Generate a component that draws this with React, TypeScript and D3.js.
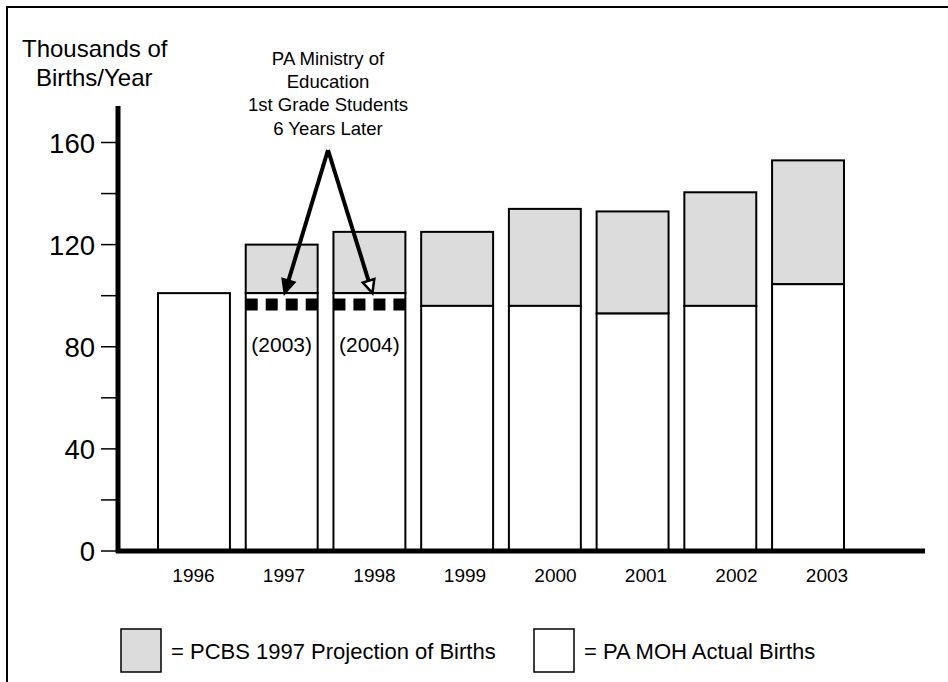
import React from "react";
import * as d3 from "d3";

const years = ["1996", "1997", "1998", "1999", "2000", "2001", "2002", "2003"];
const actualBirths = [101, 101, 101, 96, 96, 93, 96, 104.5];
const projectedBirths: (number | null)[] = [null, 120, 125, 125, 134, 133, 140.5, 153];
const moeYears = ["1997", "1998"];
const moeStudents = [96.5, 96.5];
const moeLabels = ["(2003)", "(2004)"];
const majorTicks = [0, 40, 80, 120, 160];
const minorTicks = [20, 60, 100, 140];
const yTitle = ["Thousands of", "Births/Year"];
const annotationLines = ["PA Ministry of", "Education", "1st Grade Students", "6 Years Later"];
const legendItems = [
  { label: "= PCBS 1997 Projection of Births", fill: "#dcdcdc" },
  { label: "= PA MOH Actual Births", fill: "#ffffff" },
];

const W = 948;
const H = 682;
const FONT = "'Liberation Sans', Arial, Helvetica, sans-serif";
const GRAY = "#dcdcdc";

export default function App() {
  const y = d3.scaleLinear().domain([0, 160]).range([551, 142.5]);
  const x = d3.scaleBand<string>().domain(years).range([158, 844]).paddingInner(0.18).paddingOuter(0);
  const xl = d3.scalePoint<string>().domain(years).range([193.5, 827]);
  const bw = x.bandwidth();

  const apex = { x: 328, y: 150 };
  const targets = moeYears.map((yr) => {
    const i = years.indexOf(yr);
    return { x: (x(yr) as number) + bw / 2 + 3, y: y(actualBirths[i]) };
  });

  const arrowHead = (tx: number, ty: number, filled: boolean, key: string) => {
    const ang = Math.atan2(ty - apex.y, tx - apex.x);
    const len = 13;
    const half = 6;
    const bx = tx - len * Math.cos(ang);
    const by = ty - len * Math.sin(ang);
    const px = -Math.sin(ang);
    const py = Math.cos(ang);
    const pts = [
      [tx, ty],
      [bx + half * px, by + half * py],
      [bx - half * px, by - half * py],
    ];
    return (
      <g key={key}>
        <line x1={apex.x} y1={apex.y} x2={bx} y2={by} stroke="#000" strokeWidth={4} />
        <polygon
          points={pts.map((p) => p.join(",")).join(" ")}
          fill={filled ? "#000" : "#fff"}
          stroke="#000"
          strokeWidth={2.5}
          strokeLinejoin="miter"
        />
      </g>
    );
  };

  return (
    <svg
      width={W}
      height={H}
      style={{ position: "absolute", left: 0, top: 0, background: "#fff" }}
      fontFamily={FONT}
    >
      <rect x={0} y={0} width={W} height={H} fill="#fff" />
      {/* outer frame */}
      <path d={`M7,${H + 5} V7 H${W + 5}`} fill="none" stroke="#000" strokeWidth={2} />

      {/* y title */}
      {yTitle.map((t, i) => (
        <text key={t} x={i === 0 ? 22 : 36} y={57 + i * 29} fontSize={24} fill="#000">
          {t}
        </text>
      ))}

      {/* bars */}
      {years.map((yr, i) => {
        const x0 = x(yr) as number;
        const proj = projectedBirths[i];
        return (
          <g key={yr}>
            {proj !== null && (
              <rect
                x={x0}
                y={y(proj)}
                width={bw}
                height={y(actualBirths[i]) - y(proj)}
                fill={GRAY}
                stroke="#000"
                strokeWidth={2}
              />
            )}
            <rect
              x={x0}
              y={y(actualBirths[i])}
              width={bw}
              height={y(0) - y(actualBirths[i])}
              fill="#fff"
              stroke="#000"
              strokeWidth={2}
            />
          </g>
        );
      })}

      {/* MOE dashed lines */}
      {moeYears.map((yr, i) => {
        const x0 = x(yr) as number;
        return (
          <g key={yr}>
            <line
              x1={x0}
              x2={x0 + bw}
              y1={y(moeStudents[i])}
              y2={y(moeStudents[i])}
              stroke="#000"
              strokeWidth={12}
              strokeDasharray="12 8"
            />
            <text
              x={x0 + bw / 2}
              y={y(moeStudents[i]) + 47}
              fontSize={21}
              textAnchor="middle"
              fill="#000"
            >
              {moeLabels[i]}
            </text>
          </g>
        );
      })}

      {/* axes */}
      <line x1={118} x2={118} y1={106} y2={553} stroke="#000" strokeWidth={5} />
      <line x1={116} x2={925} y1={y(0)} y2={y(0)} stroke="#000" strokeWidth={5} />
      {[...majorTicks, ...minorTicks].map((t) => (
        <line key={t} x1={101} x2={118} y1={y(t)} y2={y(t)} stroke="#000" strokeWidth={1.5} />
      ))}
      {majorTicks.map((t) => (
        <text key={t} x={95} y={y(t) + 10} fontSize={27.5} textAnchor="end" fill="#000">
          {t}
        </text>
      ))}
      {years.map((yr) => (
        <text key={yr} x={xl(yr)} y={582} fontSize={19} textAnchor="middle" fill="#000">
          {yr}
        </text>
      ))}

      {/* annotation */}
      {annotationLines.map((t, i) => (
        <text key={t} x={328} y={65 + i * 23.2} fontSize={18.6} textAnchor="middle" fill="#000">
          {t}
        </text>
      ))}
      {targets.map((t, i) => arrowHead(t.x, t.y, i === 0, `a${i}`))}

      {/* legend */}
      {legendItems.map((it, i) => {
        const bx = i === 0 ? 121 : 534;
        return (
          <g key={it.label}>
            <rect x={bx} y={629} width={40} height={43} fill={it.fill} stroke="#000" strokeWidth={1.5} />
            <text x={bx + 50} y={659} fontSize={22} fill="#000">
              {it.label}
            </text>
          </g>
        );
      })}
    </svg>
  );
}
